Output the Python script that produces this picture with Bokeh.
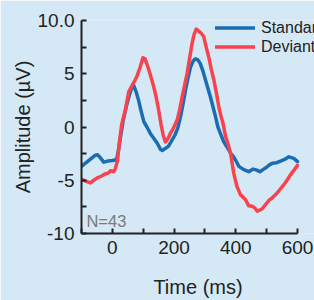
from bokeh.plotting import figure
from bokeh.models import Range1d, FixedTicker, Legend, LegendItem, Label
from bokeh.embed import file_html
from bokeh.resources import INLINE

# ---- data ----
time_std = [-100, -85, -70, -55, -48, -40, -28, -15, 0, 10, 15, 20, 26, 35, 45, 55, 62, 69, 77, 85,
            94, 102, 112, 123, 134, 145, 156, 162, 170, 182, 192, 203, 212, 221, 230, 237, 245, 253,
            262, 269, 277, 285, 293, 302, 310, 318, 326, 334, 342, 350, 361, 372, 384, 393, 399, 410,
            426, 442, 456, 468, 478, 488, 496, 507, 518, 532, 545, 558, 572, 588, 600]
amp_std = [-3.7, -3.35, -3.0, -2.65, -2.6, -2.85, -3.3, -3.2, -3.15, -3.1, -2.9, -2.15, -1.0, 0.6,
           1.9, 3.0, 3.6, 3.9, 3.3, 2.5, 1.4, 0.5, 0.0, -0.6, -1.05, -1.5, -2.1, -2.2, -2.05, -1.8,
           -1.3, -0.75, -0.1, 1.0, 2.3, 3.45, 4.6, 5.6, 6.2, 6.4, 6.3, 5.95, 5.3, 4.4, 3.6, 2.8, 1.9,
           1.0, 0.0, -0.6, -1.4, -1.9, -2.5, -2.8, -3.1, -3.7, -4.0, -4.2, -3.95, -4.05, -4.2, -4.0,
           -3.85, -3.6, -3.4, -3.35, -3.2, -3.05, -2.8, -2.95, -3.25]

time_dev = [-100, -85, -71, -60, -50, -35, -23, -12, -6, 4, 10, 17, 22, 30, 42, 53, 64, 72, 80, 90,
            99, 106, 112, 118, 126, 134, 142, 150, 158, 165, 172, 180, 188, 198, 210, 218, 226, 234,
            242, 250, 258, 265, 272, 280, 288, 296, 304, 312, 320, 329, 337, 345, 352, 359, 367, 375,
            383, 393, 404, 415, 431, 442, 453, 462, 469, 477, 485, 496, 507, 520, 534, 545, 556, 566,
            577, 590, 600]
amp_dev = [-4.9, -5.1, -5.25, -5.0, -4.8, -4.6, -4.4, -4.3, -4.1, -4.2, -3.9, -3.1, -1.6, 0.2, 1.6,
           3.3, 3.9, 4.3, 4.8, 5.6, 6.5, 6.4, 5.9, 5.4, 4.6, 3.8, 2.8, 1.6, 0.2, -0.8, -1.4, -1.1,
           -0.6, -0.1, 0.65, 1.6, 2.8, 3.9, 5.0, 6.4, 7.8, 8.7, 9.2, 9.0, 8.8, 8.5, 7.5, 6.6, 5.5, 4.4,
           3.2, 1.9, 1.0, 0.3, -0.9, -1.6, -2.45, -4.3, -5.6, -6.35, -6.8, -7.4, -7.45, -7.6, -7.9,
           -7.8, -7.7, -7.3, -6.9, -6.6, -6.2, -5.8, -5.4, -5.0, -4.5, -4.0, -3.6]

series_names = ["Standard", "Deviant"]
x_ticks = [-100, 0, 100, 200, 300, 400, 500, 600]
x_tick_labels = {-100: "", 0: "0", 100: "", 200: "200", 300: "", 400: "400", 500: "", 600: "600"}
y_ticks = [-10, -7.5, -5, -2.5, 0, 2.5, 5, 7.5, 10]
y_tick_labels = {-10: "-10", -7.5: "", -5: "-5", -2.5: "", 0: "0", 2.5: "", 5: "5", 7.5: "", 10: "10.0"}
n_text = "N=43"
x_title = "Time (ms)"
y_title = "Amplitude (µV)"

# ---- styling ----
BG = "#d5e8f5"
BLUE = "#1a6cb4"
RED = "#f8434f"
INK = "#222222"
FONT = "Liberation Sans"

# frame runs to the right edge so the legend can overhang the 600 ms end of the axis
p = figure(width=314, height=300, output_backend="svg", toolbar_location=None,
           x_range=Range1d(-100, 655), y_range=Range1d(-10, 10),
           min_border_left=81, min_border_right=0, min_border_top=20, min_border_bottom=66)
p.background_fill_color = BG
p.border_fill_color = BG
p.outline_line_color = None
p.grid.visible = False

r_std = p.line(time_std, amp_std, line_color=BLUE, line_width=3.5, line_join="round", line_cap="round")
r_dev = p.line(time_dev, amp_dev, line_color=RED, line_width=3.5, line_join="round", line_cap="round")

p.xaxis.ticker = FixedTicker(ticks=x_ticks)
p.xaxis.major_label_overrides = x_tick_labels
p.xaxis.bounds = (-100, 600)
p.yaxis.ticker = FixedTicker(ticks=y_ticks)
p.yaxis.major_label_overrides = y_tick_labels
p.xaxis.axis_label = x_title
p.yaxis.axis_label = y_title

for ax in (p.xaxis[0], p.yaxis[0]):
    ax.axis_line_color = INK
    ax.axis_line_width = 2
    ax.major_tick_line_color = INK
    ax.major_tick_line_width = 2
    ax.major_tick_in = 5
    ax.major_tick_out = 0
    ax.minor_tick_line_color = None
    ax.major_label_text_font = FONT
    ax.major_label_text_font_size = "19px"
    ax.major_label_text_color = INK
    ax.major_label_standoff = 7
    ax.axis_label_text_font = FONT
    ax.axis_label_text_font_size = "20px"
    ax.axis_label_text_font_style = "normal"
    ax.axis_label_text_color = INK

p.xaxis.axis_label_standoff = 19
p.yaxis.axis_label_standoff = 1

legend = Legend(items=[LegendItem(label=series_names[0], renderers=[r_std]),
                       LegendItem(label=series_names[1], renderers=[r_dev])],
                location=(134, 177), orientation="vertical",
                glyph_width=40, glyph_height=19, label_height=19, label_standoff=6,
                spacing=0, padding=0, margin=0,
                label_text_font=FONT, label_text_font_size="16px", label_text_color=INK,
                background_fill_alpha=0, border_line_alpha=0)
p.add_layout(legend)

p.add_layout(Label(x=-84, y=-8.85, text=n_text, text_font=FONT, text_font_size="16.5px",
                   text_color="#7a7a7a", text_baseline="alphabetic"))

open("out.html", "w").write(file_html(p, INLINE))
